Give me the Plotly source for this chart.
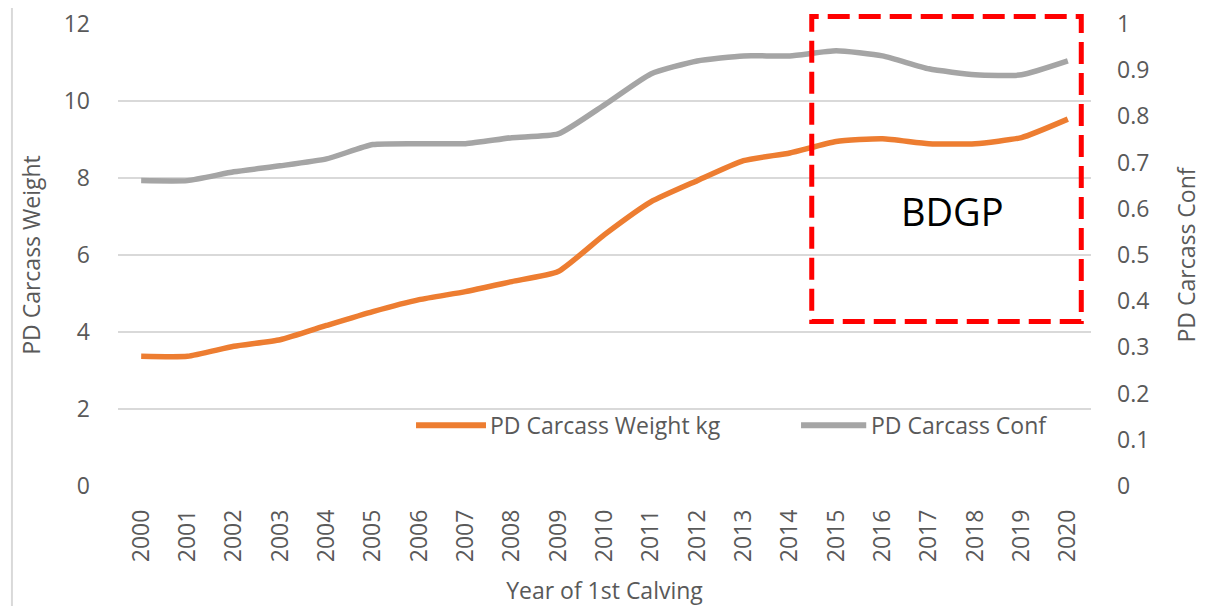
import plotly.graph_objects as go

years = [str(y) for y in range(2000, 2021)]
carcass_weight = [3.37, 3.37, 3.63, 3.80, 4.17, 4.53, 4.84, 5.05, 5.31, 5.57,
                  6.53, 7.38, 7.93, 8.45, 8.65, 8.95, 9.02, 8.89, 8.89, 9.05, 9.53]
carcass_conf = [0.661, 0.661, 0.680, 0.693, 0.708, 0.739, 0.741, 0.741, 0.754, 0.762,
                0.825, 0.892, 0.920, 0.931, 0.931, 0.942, 0.931, 0.903, 0.890, 0.890, 0.920]

left_ticks = [0, 2, 4, 6, 8, 10, 12]
right_ticks = [0, 0.1, 0.2, 0.3, 0.4, 0.5, 0.6, 0.7, 0.8, 0.9, 1]
right_labels = ["0", "0.1", "0.2", "0.3", "0.4", "0.5", "0.6", "0.7", "0.8", "0.9", "1"]

names = ["PD Carcass Weight kg", "PD Carcass Conf"]
colors = ["#ED7D31", "#A5A5A5"]

FONT = "Open Sans"
TXT = "#595959"
FS = 23

fig = go.Figure()
fig.add_trace(go.Scatter(x=years, y=carcass_weight, name=names[0],
                         mode="lines", line=dict(color=colors[0], width=5.5, shape="spline", smoothing=0.5),
                         yaxis="y", showlegend=False))
fig.add_trace(go.Scatter(x=years, y=carcass_conf, name=names[1],
                         mode="lines", line=dict(color=colors[1], width=5.5, shape="spline", smoothing=0.5),
                         yaxis="y2", showlegend=False))

fig.update_layout(
    width=1213, height=606,
    margin=dict(l=110, r=130, t=16, b=128),
    paper_bgcolor="white", plot_bgcolor="white",
    font=dict(family=FONT, color=TXT, size=FS),
    xaxis=dict(type="category", range=[-0.5, 20.5], tickangle=-90, showgrid=False, zeroline=False,
               showline=False, ticks="", tickfont=dict(size=FS, color=TXT), automargin=False,
               ticklabelstandoff=18, ticklabeloverflow="allow",
               title=dict(text="Year of 1st Calving", font=dict(size=FS, color=TXT), standoff=21)),
    yaxis=dict(range=[0, 12], tickvals=left_ticks, showgrid=True, gridcolor="#D9D9D9", gridwidth=2,
               zeroline=False, showline=False, ticks="", tickfont=dict(size=FS, color=TXT), automargin=False,
               ticklabelstandoff=27, ticklabeloverflow="allow",
               title=dict(text="PD Carcass Weight", font=dict(size=FS, color=TXT), standoff=16)),
    yaxis2=dict(range=[0, 1], tickvals=right_ticks, ticktext=right_labels, overlaying="y", side="right",
                showgrid=False, zeroline=False, showline=False, ticks="", tickfont=dict(size=FS, color=TXT),
                automargin=False, ticklabelstandoff=25, ticklabeloverflow="allow",
                title=dict(text="PD Carcass Conf", font=dict(size=FS, color=TXT), standoff=30)),
    showlegend=False,
)

# custom legend inside the plot
leg_y = 0.1317
leg_items = [(0.3063, 0.3782, 0.3804), (0.702, 0.769, 0.772)]
for (x0, x1, xt), name, col in zip(leg_items, names, colors):
    fig.add_shape(type="line", xref="paper", yref="paper", x0=x0, x1=x1, y0=leg_y, y1=leg_y,
                  line=dict(color=col, width=6))
    fig.add_annotation(text=name, xref="paper", yref="paper", x=xt, y=leg_y, xanchor="left",
                       yanchor="middle", showarrow=False, font=dict(size=FS, color=TXT))

# BDGP highlighted region
fig.add_shape(type="rect", xref="paper", yref="paper", x0=0.713, x1=0.990, y0=0.356, y1=1.016,
              line=dict(color="#FF0000", width=5, dash="22px,9px"), fillcolor="rgba(0,0,0,0)")
fig.add_annotation(text="BDGP", xref="paper", yref="paper", x=0.858, y=0.596, showarrow=False,
                   xanchor="center", yanchor="middle",
                   font=dict(family="Open Sans", size=38, color="black"))

# chart frame edges
fig.add_shape(type="line", xref="paper", yref="paper", x0=-0.109, x1=-0.109, y0=-0.3, y1=1.1,
              line=dict(color="#D9D9D9", width=2))
fig.add_shape(type="line", xref="paper", yref="paper", x0=1.130, x1=1.130, y0=-0.3, y1=1.1,
              line=dict(color="#D9D9D9", width=2))

fig.write_html("out.html")
